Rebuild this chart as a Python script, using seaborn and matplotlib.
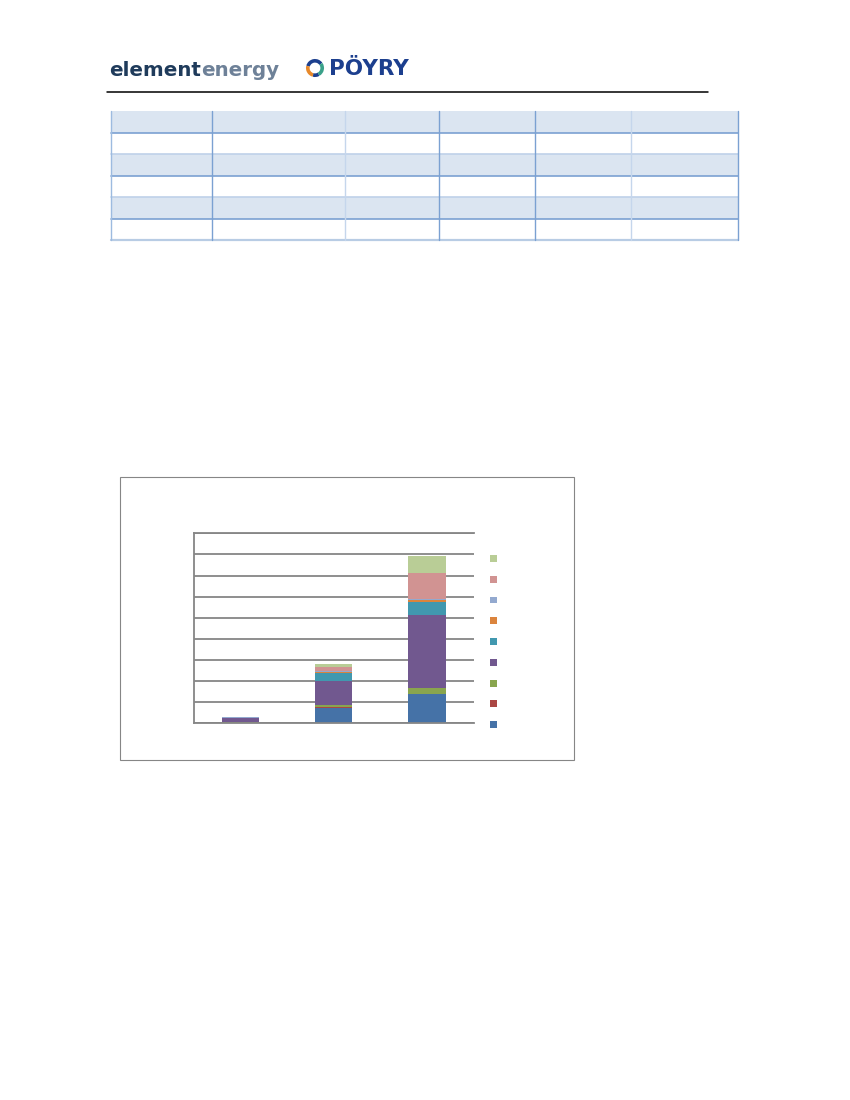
import matplotlib
matplotlib.use('Agg')
import matplotlib.pyplot as plt
import numpy as np
import pandas as pd
import seaborn as sns
from matplotlib.patches import Rectangle, Patch, Arc
from matplotlib.lines import Line2D

W, H = 850, 1100

# chart data (bottom of stack first), no labels are printed in the source
scenarios = ['Scenario 1', 'Scenario 2', 'Scenario 3']
series_names = ['Series 1', 'Series 2', 'Series 3', 'Series 4', 'Series 5',
                'Series 6', 'Series 7', 'Series 8', 'Series 9']
s1_blue = [0.01, 0.74, 1.38]
s2_red = [0.01, 0.01, 0.01]
s3_green = [0.05, 0.13, 0.30]
s4_purple = [0.16, 1.14, 3.46]
s5_teal = [0.01, 0.38, 0.60]
s6_orange = [0.03, 0.04, 0.07]
s7_lightblue = [0.01, 0.05, 0.06]
s8_pink = [0.01, 0.17, 1.25]
s9_lightgreen = [0.03, 0.17, 0.80]
colours = ['#4572A7', '#AA4643', '#89A54E', '#71588F', '#4198AF',
           '#DB843D', '#93A9CF', '#D19392', '#B9CD96']


def fx(x):
    return x / W


def fy(y):
    return 1 - y / H


sns.set_style('white')
plt.rcParams['font.family'] = ['DejaVu Sans']
fig = plt.figure(figsize=(W / 100, H / 100), dpi=100)

# header: logos and rule
t = fig.text(fx(109), fy(76), 'element', fontsize=14.3, fontweight='bold',
             color='#1f3b5b', va='baseline')
renderer = fig.canvas.get_renderer()
bb = t.get_window_extent(renderer)
fig.text(bb.x1 / W, fy(76), 'energy', fontsize=14.3, fontweight='bold',
         color='#6e8198', va='baseline')
fig.text(fx(329), fy(75), 'PÖYRY', fontsize=15.5, fontweight='bold',
         color='#1c3f8e', va='baseline')
icon = fig.add_axes([fx(305), fy(78), 20 / W, 20 / H])
icon.set_xlim(0, 1)
icon.set_ylim(0, 1)
icon.axis('off')
for th1, th2, c in [(35, 165, '#1c3f8e'), (165, 255, '#e8892a'),
                    (255, 300, '#1c3f8e'), (300, 395, '#3aa18a')]:
    icon.add_patch(Arc((0.5, 0.5), 0.72, 0.72, theta1=th1, theta2=th2,
                       color=c, lw=2.6))
fig.add_artist(Line2D([fx(107), fx(708)], [fy(91.5), fy(91.5)],
                      color='black', lw=1.1))

# empty table
col_edges = [110.5, 212.3, 344.5, 438.5, 535, 631, 738]
row_edges = [111 + i * 21.5 for i in range(7)]
for i in range(6):
    if i % 2 == 0:
        fig.add_artist(Rectangle((fx(col_edges[0]), fy(row_edges[i + 1])),
                                 (col_edges[-1] - col_edges[0]) / W,
                                 21.5 / H, facecolor='#dbe5f1',
                                 edgecolor='none'))
for i, y in enumerate(row_edges[1:]):
    c = '#7ba1d2' if i % 2 == 0 else '#bfd1e9'
    if i == 5:
        c = '#b8cce4'
    fig.add_artist(Line2D([fx(col_edges[0]), fx(col_edges[-1])],
                          [fy(y), fy(y)], color=c, lw=1.2 if i < 5 else 1.6))
vcols = ['#9dbbe0', '#7ba1d2', '#c5d6ec', '#7ba1d2', '#7ba1d2', '#c5d6ec',
         '#7ba1d2']
for x, c in zip(col_edges, vcols):
    fig.add_artist(Line2D([fx(x), fx(x)], [fy(row_edges[0]), fy(row_edges[-1])],
                          color=c, lw=1.0))

# chart frame
fig.add_artist(Rectangle((fx(119.7), fy(760)), (574 - 119.7) / W,
                         (760 - 476.7) / H, facecolor='none',
                         edgecolor='#868686', lw=0.8))

ax = fig.add_axes([fx(193.7), fy(723.3), (473.7 - 193.7) / W,
                   (723.3 - 533.3) / H])
values = np.array([s1_blue, s2_red, s3_green, s4_purple, s5_teal, s6_orange,
                   s7_lightblue, s8_pink, s9_lightgreen])
df = pd.DataFrame(values.T, index=scenarios, columns=series_names)
cum = df.cumsum(axis=1)
# overlapping cumulative bars, tallest drawn first
for name, c in reversed(list(zip(series_names, colours))):
    sns.barplot(x=cum.index, y=cum[name], color=c, saturation=1, width=0.4,
                linewidth=0, errorbar=None, ax=ax)

grey = '#868686'
ax.set_ylim(0, 9)
ax.set_yticks(range(10))
ax.set_xlim(-0.5, 2.5)
ax.set_xticks([-0.5, 0.5, 1.5, 2.5])
ax.set_xticklabels([])
ax.set_yticklabels([])
ax.set_xlabel('')
ax.set_ylabel('')
ax.yaxis.grid(True, color=grey, lw=1.3)
ax.set_axisbelow(True)
for s in ['left', 'bottom', 'top']:
    ax.spines[s].set_color(grey)
    ax.spines[s].set_linewidth(1.3)
ax.spines['right'].set_visible(False)
ax.tick_params(direction='out', length=4, width=1.1, color=grey)

handles = [Patch(facecolor=c, edgecolor='none') for c in reversed(colours)]
ax.legend(handles, [''] * len(handles), loc='upper left',
          bbox_to_anchor=(fx(490.3), fy(553.8)), bbox_transform=fig.transFigure,
          frameon=False, fontsize=7, handlelength=0.72, handleheight=0.72,
          handletextpad=0, labelspacing=1.11, borderpad=0, borderaxespad=0)

fig.savefig('out.png', dpi=100)
